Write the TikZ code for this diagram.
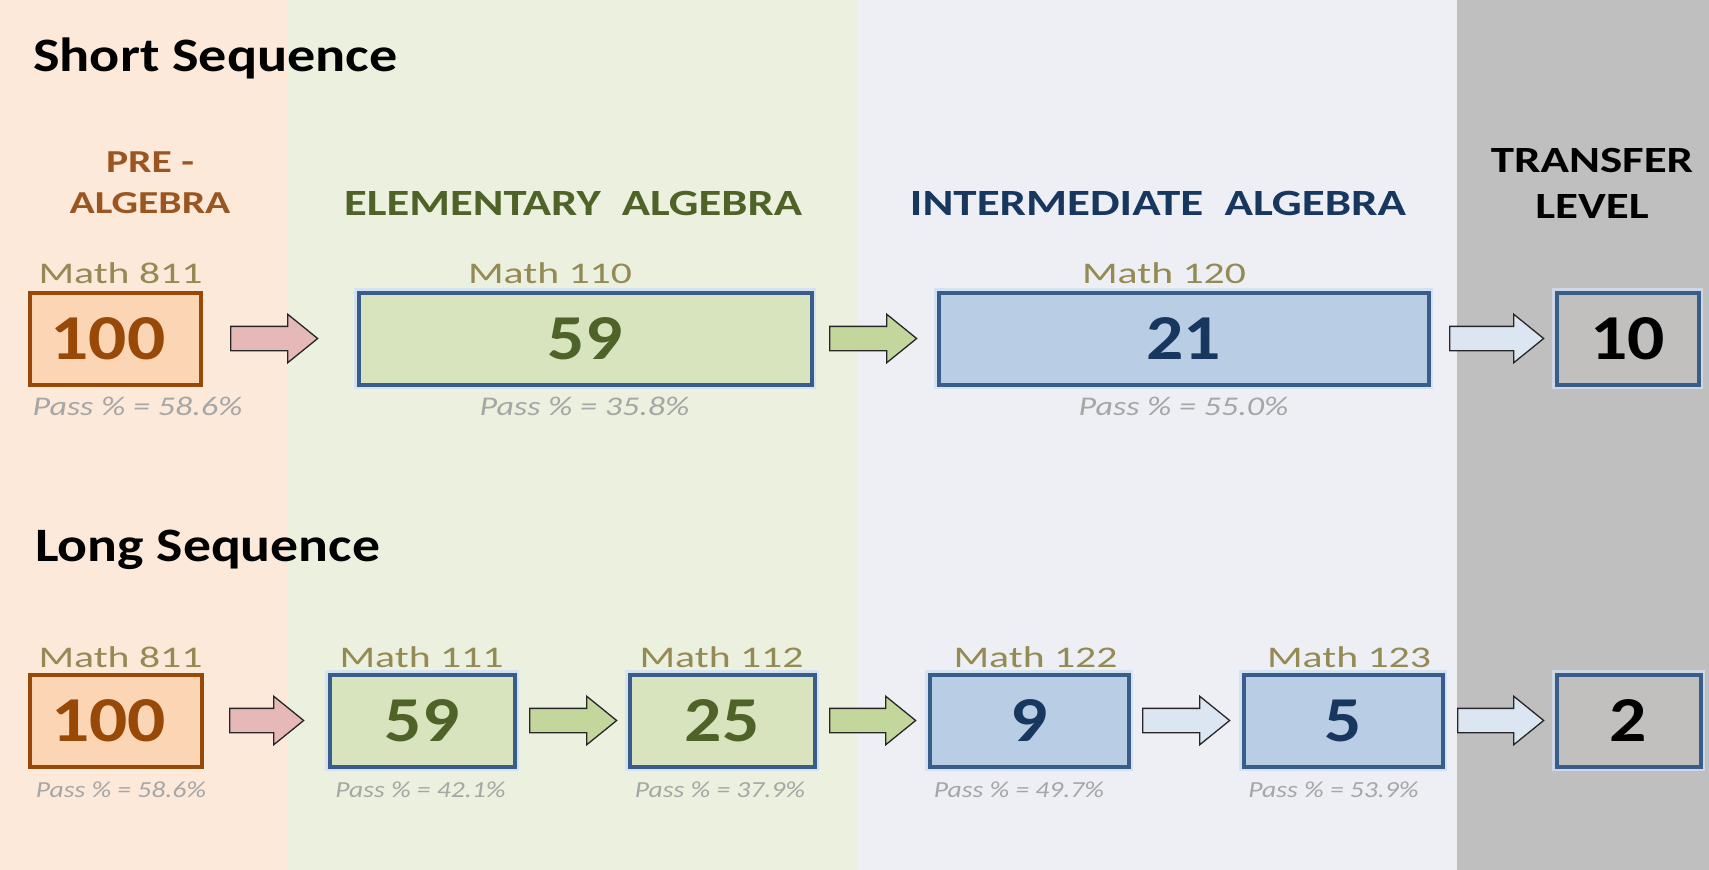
\documentclass[tikz,border=0pt]{standalone}
\usepackage{fontspec}
\setmainfont{Carlito}
\usepackage{graphicx}
\usetikzlibrary{shapes.arrows}
\definecolor{bgor}{HTML}{FDE9DA}
\definecolor{bggr}{HTML}{EBF1DE}
\definecolor{bgbl}{HTML}{EDEFF4}
\definecolor{bggy}{HTML}{BFBFBF}
\definecolor{orfill}{HTML}{FCD5B5}
\definecolor{ordraw}{HTML}{984807}
\definecolor{grfill}{HTML}{D7E4BD}
\definecolor{blfill}{HTML}{B9CDE5}
\definecolor{gyfill}{HTML}{C2C0BF}
\definecolor{bxdraw}{HTML}{385D8A}
\definecolor{halo}{HTML}{D5E2F2}
\definecolor{grtext}{HTML}{4F6228}
\definecolor{bltext}{HTML}{17375E}
\definecolor{ortext}{HTML}{9A5520}
\definecolor{mathc}{HTML}{948A54}
\definecolor{passc}{HTML}{A6A6A6}
\definecolor{arpink}{HTML}{E6B9B8}
\definecolor{argreen}{HTML}{C3D69B}
\definecolor{arwhite}{HTML}{DCE6F2}
\definecolor{arline}{HTML}{262626}
\newcommand\xs[2]{\scalebox{#1}[1]{#2}}
\newcommand\fsz[1]{\fontsize{#1}{#1}\selectfont}
\begin{document}
\begin{tikzpicture}[x=1pt,y=-1pt,
  box/.style={line width=4pt, inner sep=0pt, minimum height=92pt, font=\fsz{64}\bfseries},
  obox/.style={box, draw=ordraw, fill=orfill, text=ordraw},
  gbox/.style={box, draw=bxdraw, fill=grfill, text=grtext, preaction={draw=halo, line width=9pt}},
  bbox/.style={box, draw=bxdraw, fill=blfill, text=bltext, preaction={draw=halo, line width=9pt}},
  ybox/.style={box, draw=bxdraw, fill=gyfill, text=black, preaction={draw=halo!70!bggy, line width=9pt}},
  arr/.style={shape=single arrow, draw=arline, line width=1.3pt, inner xsep=0pt, inner ysep=11.5pt,
     minimum width=48pt, single arrow head extend=12pt, single arrow tip angle=78, anchor=tail},
  mlab/.style={anchor=base, inner sep=0pt, text=mathc, font=\fsz{30}},
  plab/.style={anchor=base, inner sep=0pt, text=passc, font=\fsz{27}\itshape},
  pslab/.style={anchor=base, inner sep=0pt, text=passc, font=\fsz{23}\itshape},
  title/.style={anchor=base west, inner sep=0pt, text=black, font=\fsz{48}\bfseries},
  head/.style={anchor=base, inner sep=0pt, font=\fsz{37}\bfseries},
]
\useasboundingbox (0,0) rectangle (1709,870);
% background bands
\fill[bgor] (0,0) rectangle (287,870);
\fill[bggr] (287,0) rectangle (857,870);
\fill[bgbl] (857,0) rectangle (1457,870);
\fill[bggy] (1457,0) rectangle (1709,870);

% titles
\node[title] (t1) at (33,71) {\xs{1.17}{Short Sequence}};
\node[title] (t2) at (35,561) {\xs{1.16}{Long Sequence}};

% column headers
\node[head, text=ortext, font=\fsz{32}\bfseries] (h1a) at (150,172) {\xs{1.3}{PRE -}};
\node[head, text=ortext, font=\fsz{32}\bfseries] (h1b) at (150,213) {\xs{1.3}{ALGEBRA}};
\node[head, text=grtext] (h2) at (573,215) {\xs{1.26}{ELEMENTARY\ \ ALGEBRA}};
\node[head, text=bltext] (h3) at (1158,215) {\xs{1.27}{INTERMEDIATE\ \ ALGEBRA}};
\node[head, text=black] (h4a) at (1592,172) {\xs{1.27}{TRANSFER}};
\node[head, text=black] (h4b) at (1592,218) {\xs{1.27}{LEVEL}};

% short sequence boxes
\node[obox, minimum width=171pt] (s1) at (115,338.5) {\xs{1.18}{100}\hspace*{14pt}};
\node[gbox, minimum width=453pt] (s2) at (585,338.5) {\xs{1.15}{59}};
\node[bbox, minimum width=490pt] (s3) at (1183.5,338.5) {\xs{1.15}{21}};
\node[ybox, minimum width=142pt] (s4) at (1627.5,338.5) {\xs{1.15}{10}};

\node[mlab] (sm1) at (120.5,283) {\xs{1.39}{Math 811}};
\node[mlab] (sm2) at (550,283) {\xs{1.39}{Math 110}};
\node[mlab] (sm3) at (1164,283) {\xs{1.39}{Math 120}};

\node[plab] (sp1) at (137.5,415) {\xs{1.26}{Pass \% = 58.6\%}};
\node[plab] (sp2) at (584.5,415) {\xs{1.26}{Pass \% = 35.8\%}};
\node[plab] (sp3) at (1183.5,415) {\xs{1.26}{Pass \% = 55.0\%}};

\node[arr, fill=arpink, minimum height=87pt] (sa1) at (230,338.5) {};
\node[arr, fill=argreen, minimum height=87pt] (sa2) at (829,338.5) {};
\node[arr, fill=arwhite, minimum height=94pt] (sa3) at (1449,338.5) {};

% long sequence boxes
\node[obox, minimum width=172pt] (l1) at (115.5,720.5) {\xs{1.18}{100}\hspace*{14pt}};
\node[gbox, minimum width=185pt] (l2) at (422,720.5) {\xs{1.15}{59}};
\node[gbox, minimum width=185pt] (l3) at (722,720.5) {\xs{1.15}{25}};
\node[bbox, minimum width=199pt] (l4) at (1029,720.5) {\xs{1.15}{9}};
\node[bbox, minimum width=199pt] (l5) at (1343,720.5) {\xs{1.15}{5}};
\node[ybox, minimum width=144pt] (l6) at (1628.5,720.5) {\xs{1.15}{2}};

\node[mlab] (lm1) at (120.5,667) {\xs{1.39}{Math 811}};
\node[mlab] (lm2) at (421.5,667) {\xs{1.39}{Math 111}};
\node[mlab] (lm3) at (721.5,667) {\xs{1.39}{Math 112}};
\node[mlab] (lm4) at (1035.5,667) {\xs{1.39}{Math 122}};
\node[mlab] (lm5) at (1349,667) {\xs{1.39}{Math 123}};

\node[pslab] (lp1) at (121,797) {\xs{1.2}{Pass \% = 58.6\%}};
\node[pslab] (lp2) at (420.5,797) {\xs{1.2}{Pass \% = 42.1\%}};
\node[pslab] (lp3) at (720,797) {\xs{1.2}{Pass \% = 37.9\%}};
\node[pslab] (lp4) at (1019,797) {\xs{1.2}{Pass \% = 49.7\%}};
\node[pslab] (lp5) at (1333.5,797) {\xs{1.2}{Pass \% = 53.9\%}};

\node[arr, fill=arpink, minimum height=74pt] (la1) at (229,720.5) {};
\node[arr, fill=argreen, minimum height=87pt] (la2) at (529,720.5) {};
\node[arr, fill=argreen, minimum height=86pt] (la3) at (829,720.5) {};
\node[arr, fill=arwhite, minimum height=87pt] (la4) at (1142,720.5) {};
\node[arr, fill=arwhite, minimum height=86pt] (la5) at (1457,720.5) {};
\end{tikzpicture}
\end{document}
